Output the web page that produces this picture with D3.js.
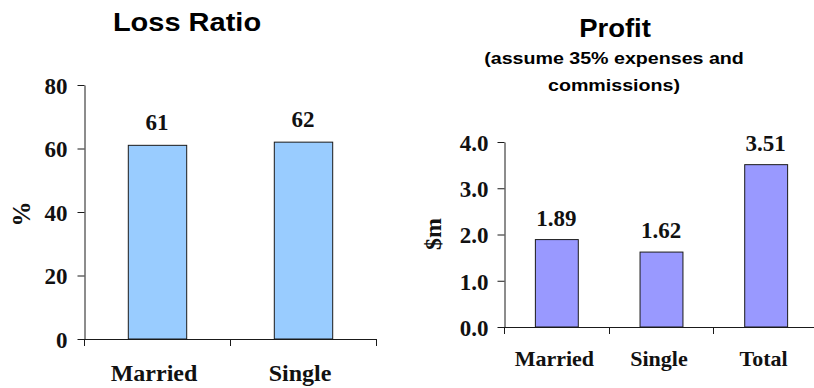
<!DOCTYPE html>
<html>
<head>
<meta charset="utf-8">
<script src="https://cdn.jsdelivr.net/npm/d3@7/dist/d3.min.js"></script>
<style>
  html, body { margin: 0; padding: 0; background: #fff; }
  svg { display: block; }
  .serif { font-family: "Liberation Serif", "Times New Roman", serif; font-weight: bold; fill: #111; }
  .sans { font-family: "Liberation Sans", Arial, sans-serif; font-weight: bold; fill: #000; }
</style>
</head>
<body>
<svg id="chart" width="814" height="388"></svg>
<script>
// Loss ratio by marital status (%)
const lossCategories = ["Married", "Single"];
const lossValues = [61, 62];
const lossTicks = [0, 20, 40, 60, 80];

// Profit by segment ($m)
const profitCategories = ["Married", "Single", "Total"];
const profitValues = [1.89, 1.62, 3.51];
const profitTicks = [0, 1, 2, 3, 4];

const svg = d3.select("#chart");
const STROKE = "#1a1a1a";

function drawPanel(opt) {
  const g = svg.append("g");
  const x = d3.scaleBand().domain(opt.categories).range([opt.x0, opt.x1]).padding(0);
  const y = d3.scaleLinear().domain(opt.domain).range([opt.yBottom, opt.yTop]);

  // bars
  const bw = x.bandwidth() * opt.barFrac;
  g.selectAll("rect.bar").data(opt.values).join("rect")
    .attr("class", "bar")
    .attr("x", (d, i) => x(opt.categories[i]) + x.bandwidth() / 2 - bw / 2 + 0.5)
    .attr("y", d => y(d))
    .attr("width", bw)
    .attr("height", d => y(0) - y(d))
    .attr("fill", opt.fill)
    .attr("stroke", STROKE)
    .attr("stroke-width", 1);

  // value labels
  g.selectAll("text.val").data(opt.values).join("text")
    .attr("class", "serif")
    .attr("x", (d, i) => x(opt.categories[i]) + x.bandwidth() / 2)
    .attr("y", d => y(d) - opt.labelGap)
    .attr("text-anchor", "middle")
    .style("font-size", opt.valueSize + "px")
    .text(opt.valueFormat);

  // y axis
  const yAxis = d3.axisLeft(y)
    .tickValues(opt.ticks)
    .tickFormat(opt.tickFormat)
    .tickSize(7)
    .tickSizeOuter(0)
    .tickPadding(opt.tickPadding);
  const ya = g.append("g").attr("transform", `translate(${opt.x0 + 0.5},0)`).call(yAxis);
  ya.select(".domain").attr("stroke", STROKE);
  ya.selectAll(".tick line").attr("stroke", STROKE);
  ya.selectAll(".tick text")
    .attr("class", "serif")
    .attr("fill", "#111")
    .style("font-size", opt.tickSize + "px")
    .attr("dy", "0.36em");

  // x axis baseline with category boundary ticks
  const xa = g.append("g");
  xa.append("line")
    .attr("x1", opt.x0).attr("x2", opt.x1)
    .attr("y1", y(0) + 0.5).attr("y2", y(0) + 0.5)
    .attr("stroke", STROKE);
  const bounds = opt.categories.map(c => x(c)).concat([opt.x1]);
  xa.selectAll("line.b").data(bounds).join("line")
    .attr("class", "b")
    .attr("x1", d => Math.round(d) + 0.5).attr("x2", d => Math.round(d) + 0.5)
    .attr("y1", y(0)).attr("y2", y(0) + 7)
    .attr("stroke", STROKE);
  xa.selectAll("text").data(opt.categories).join("text")
    .attr("class", "serif")
    .attr("x", d => x(d) + x.bandwidth() / 2 + opt.catShift)
    .attr("y", opt.catBaseline)
    .attr("text-anchor", "middle")
    .style("font-size", opt.catSize + "px")
    .text(d => d);

  // y axis title
  g.append("text")
    .attr("class", "serif")
    .attr("transform", `translate(${opt.yTitleX},${opt.yTitleY}) rotate(-90)`)
    .attr("text-anchor", "middle")
    .attr("dy", "0.35em")
    .style("font-size", opt.yTitleSize + "px")
    .text(opt.yTitle);
}

function title(txt, cx, baseline, size, sx) {
  svg.append("text")
    .attr("class", "sans")
    .attr("transform", `translate(${cx},${baseline}) scale(${sx},1)`)
    .attr("text-anchor", "middle")
    .style("font-size", size + "px")
    .text(txt);
}

drawPanel({
  categories: lossCategories, values: lossValues, ticks: lossTicks,
  domain: [0, 80], x0: 84, x1: 376, yBottom: 339, yTop: 85,
  barFrac: 0.4, fill: "#99CCFF",
  valueFormat: d => d3.format("d")(d), valueSize: 23, labelGap: 15,
  tickFormat: d3.format("d"), tickSize: 23, tickPadding: 10,
  catBaseline: 381, catSize: 24, catShift: -3,
  yTitle: "%", yTitleX: 21, yTitleY: 214, yTitleSize: 25
});

drawPanel({
  categories: profitCategories, values: profitValues, ticks: profitTicks,
  domain: [0, 4], x0: 504, x1: 818, yBottom: 327, yTop: 142,
  barFrac: 0.41, fill: "#9999FF",
  valueFormat: d => d3.format(".2f")(d), valueSize: 23, labelGap: 14,
  tickFormat: d3.format(".1f"), tickSize: 23, tickPadding: 9,
  catBaseline: 366, catSize: 22, catShift: -2,
  yTitle: "$m", yTitleX: 433, yTitleY: 234, yTitleSize: 24
});

title("Loss Ratio", 187, 31, 25, 1.16);
title("Profit", 615, 37, 25, 1.1);
title("(assume 35% expenses and", 614, 63.5, 16.5, 1.19);
title("commissions)", 614, 90.5, 16.5, 1.19);
</script>
</body>
</html>
